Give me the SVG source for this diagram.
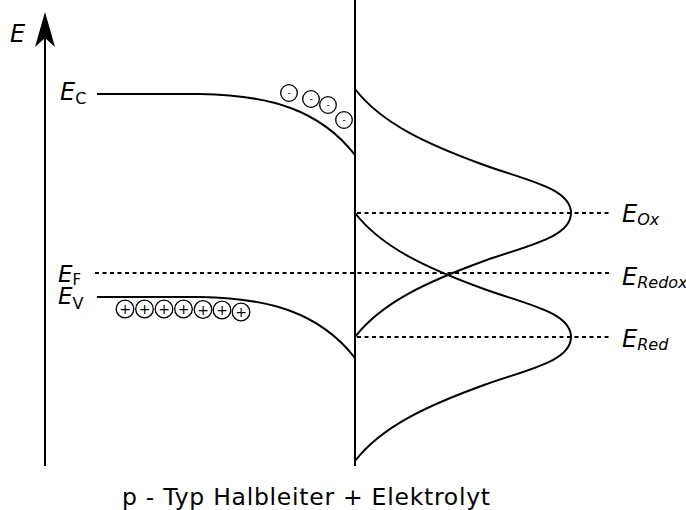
<svg xmlns="http://www.w3.org/2000/svg" xmlns:xlink="http://www.w3.org/1999/xlink" width="686" height="510" viewBox="0 0 686 510">
<style>
.ln{fill:none;stroke:#000;stroke-width:2}
.dot{fill:none;stroke:#000;stroke-width:2;stroke-dasharray:4 3.5}
.chg{fill:#fff;stroke:#000;stroke-width:1.3}
.t{font-family:"DejaVu Sans",Verdana,sans-serif;fill:#000}
.it{font-style:italic}
.ct{font-family:"DejaVu Sans",sans-serif;font-size:9px;text-anchor:middle;fill:#000}
.pt{font-family:"DejaVu Sans",sans-serif;font-size:14px;text-anchor:middle;fill:#000}
</style>
<defs>
<path id="gauss" d="M0,-124 C27,-89 74,-68 129,-48 C170,-33 216,-25 216,0 C216,25 170,33 129,48 C74,68 27,89 0,124"/>
</defs>
<rect width="686" height="510" fill="#fff"/>
<g id="axis">
<line class="ln" x1="45" y1="466" x2="45" y2="36"/>
<path d="M45,12 L55,47 L45,38 L35,47 Z" fill="#000"/>
<text class="t it" x="10" y="42" font-size="24">E</text>
</g>
<g id="electrode">
<line class="ln" x1="355" y1="0" x2="355" y2="466"/>
</g>
<g id="bands">
<path id="Ec" class="ln" d="M97,94 L200,94 C270,95 320,110 355,155"/>
<path id="Ev" class="ln" d="M97,297 L200,297 C270,298 320,313 355,358"/>
</g>
<g id="levels">
<line id="Ef" class="dot" x1="95" y1="273" x2="610" y2="273"/>
<line id="Eox" class="dot" x1="357" y1="213" x2="610" y2="213"/>
<line id="Ered" class="dot" x1="357" y1="337" x2="610" y2="337"/>
</g>
<g id="distributions">
<use xlink:href="#gauss" href="#gauss" class="ln" transform="translate(355,213)"/>
<use xlink:href="#gauss" href="#gauss" class="ln" transform="translate(355,337)"/>
</g>
<g id="electrons">
<circle class="chg" cx="289" cy="93" r="8.3"/><text class="ct" x="289" y="96">-</text>
<circle class="chg" cx="311" cy="99" r="8.3"/><text class="ct" x="311" y="102">-</text>
<circle class="chg" cx="328" cy="105" r="8.3"/><text class="ct" x="328" y="108">-</text>
<circle class="chg" cx="344" cy="120" r="8.3"/><text class="ct" x="344" y="123">-</text>
</g>
<g id="holes">
<circle class="chg" cx="125" cy="309" r="8.8"/><text class="pt" x="125" y="314">+</text>
<circle class="chg" cx="144.5" cy="309" r="8.8"/><text class="pt" x="144.5" y="314">+</text>
<circle class="chg" cx="164" cy="309" r="8.8"/><text class="pt" x="164" y="314">+</text>
<circle class="chg" cx="183.5" cy="309" r="8.8"/><text class="pt" x="183.5" y="314">+</text>
<circle class="chg" cx="203" cy="309.5" r="8.8"/><text class="pt" x="203" y="314.5">+</text>
<circle class="chg" cx="222" cy="310" r="8.8"/><text class="pt" x="222" y="315">+</text>
<circle class="chg" cx="241" cy="312" r="8.8"/><text class="pt" x="241" y="317">+</text>
</g>
<g id="labels">
<text id="lEc" class="t" x="60" y="100" font-size="24"><tspan class="it">E</tspan><tspan font-size="16" y="104">C</tspan></text>
<text id="lEf" class="t" x="58" y="282" font-size="23"><tspan class="it">E</tspan><tspan font-size="15" y="285">F</tspan></text>
<text id="lEv" class="t" x="58" y="304" font-size="23"><tspan class="it">E</tspan><tspan font-size="16" y="309">V</tspan></text>
<text id="lEox" class="t it" x="622" y="222" font-size="24">E<tspan font-size="16" y="225">Ox</tspan></text>
<text id="lEredox" class="t it" x="622" y="285" font-size="24">E<tspan font-size="16" y="288">Redox</tspan></text>
<text id="lEred" class="t it" x="622" y="347" font-size="24">E<tspan font-size="16" y="350">Red</tspan></text>
<text id="caption" class="t" x="122" y="505" font-size="23.5" textLength="368" lengthAdjust="spacing">p - Typ Halbleiter + Elektrolyt</text>
</g>
</svg>
